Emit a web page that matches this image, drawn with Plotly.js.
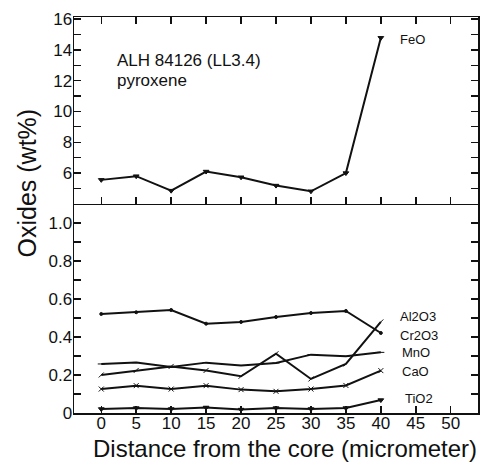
<!DOCTYPE html>
<html><head><meta charset="utf-8">
<script src="https://cdn.plot.ly/plotly-3.0.1.min.js"></script>
<style>html,body{margin:0;padding:0;background:#fff}#c{width:487px;height:464px}</style>
</head><body><div id="c"></div>
<script>
const distance = [0, 5, 10, 15, 20, 25, 30, 35, 40];
const FeO   = [5.56, 5.8, 4.86, 6.1, 5.73, 5.19, 4.82, 6.0, 14.78];
const Al2O3 = [0.521, 0.53, 0.542, 0.47, 0.479, 0.505, 0.526, 0.537, 0.421];
const Cr2O3 = [0.20, 0.224, 0.245, 0.224, 0.193, 0.312, 0.179, 0.258, 0.479];
const MnO   = [0.258, 0.266, 0.242, 0.265, 0.25, 0.263, 0.307, 0.298, 0.319];
const CaO   = [0.126, 0.144, 0.126, 0.144, 0.123, 0.114, 0.126, 0.145, 0.223];
const TiO2  = [0.021, 0.026, 0.021, 0.029, 0.018, 0.026, 0.021, 0.026, 0.068];
const xTicks = [0, 5, 10, 15, 20, 25, 30, 35, 40, 45, 50];
const topTicks = [6, 8, 10, 12, 14, 16];
const botTicks = [0, 0.2, 0.4, 0.6, 0.8, 1.0];
const botTickText = ['0', '0.2', '0.4', '0.6', '0.8', '1.0'];

const F = 'Liberation Sans, Arial, Helvetica, sans-serif';
const ink = '#111';
function tr(y, ax, sym, size) {
  return {x: distance, y: y, xaxis: ax[0], yaxis: ax[1], mode: 'lines+markers',
    line: {color: ink, width: 2}, marker: {symbol: sym, size: size, color: ink, line: {color: ink, width: 1}},
    showlegend: false, hoverinfo: 'skip'};
}
const data = [
  tr(FeO, ['x2', 'y2'], 'triangle-down', 5),
  tr(Al2O3, ['x', 'y'], 'circle', 3),
  tr(Cr2O3, ['x', 'y'], 'line-ne', 5),
  tr(MnO, ['x', 'y'], 'line-ew', 5),
  tr(CaO, ['x', 'y'], 'x-thin', 5),
  tr(TiO2, ['x', 'y'], 'triangle-down', 5)
];
const axCommon = {showline: true, linecolor: ink, linewidth: 1.5, mirror: 'allticks', ticks: 'inside',
  ticklen: 7, tickwidth: 1.5, tickcolor: ink, showgrid: false, zeroline: false,
  tickfont: {family: F, size: 17, color: ink}};
const layout = {
  width: 487, height: 464, paper_bgcolor: '#fff', plot_bgcolor: '#fff',
  margin: {l: 74, r: 9, t: 17, b: 51},
  font: {family: F, color: ink},
  xaxis: Object.assign({}, axCommon, {anchor: 'y', mirror: false, range: [-3.9, 53.9], tickvals: xTicks,
    ticklabelstandoff: -6}),
  xaxis2: Object.assign({}, axCommon, {anchor: 'y2', matches: 'x', range: [-3.9, 53.9], tickvals: xTicks, showticklabels: false}),
  yaxis: Object.assign({}, axCommon, {domain: [0, 0.528], range: [0, 1.1], tickvals: botTicks, ticktext: botTickText,
    ticklabelstandoff: -3,
    minor: {dtick: 0.1, ticklen: 7, tickwidth: 1.2, tickcolor: ink, ticks: 'inside'}}),
  yaxis2: Object.assign({}, axCommon, {domain: [0.528, 1], range: [4, 16.13], tickvals: topTicks,
    ticklabelstandoff: -3,
    minor: {dtick: 1, ticklen: 7, tickwidth: 1.2, tickcolor: ink, ticks: 'inside'}}),
  annotations: [
    {text: 'Distance from the core (micrometer)', xref: 'paper', yref: 'paper', x: 0.522, y: -0.127, xanchor: 'center', yanchor: 'bottom',
      showarrow: false, borderpad: 0, font: {family: F, size: 24, color: ink}},
    {text: 'Oxides (wt%)', xref: 'paper', yref: 'paper', x: -0.116, y: 0.58, xanchor: 'center', yanchor: 'middle',
      textangle: -90, showarrow: false, font: {family: F, size: 25, color: ink}},
    {text: 'ALH 84126 (LL3.4)', xref: 'x2', yref: 'y2', x: 2.0, y: 13.33, xanchor: 'left', showarrow: false,
      font: {family: F, size: 17, color: ink}},
    {text: 'pyroxene', xref: 'x2', yref: 'y2', x: 2.0, y: 12.03, xanchor: 'left', showarrow: false,
      font: {family: F, size: 17, color: ink}},
    {text: 'FeO', xref: 'x2', yref: 'y2', x: 42.4, y: 14.7, xanchor: 'left', showarrow: false,
      font: {family: F, size: 13, color: ink}},
    {text: 'Al2O3', xref: 'x', yref: 'y', x: 42.4, y: 0.507, xanchor: 'left', showarrow: false, font: {family: F, size: 13, color: ink}},
    {text: 'Cr2O3', xref: 'x', yref: 'y', x: 42.4, y: 0.407, xanchor: 'left', showarrow: false, font: {family: F, size: 13, color: ink}},
    {text: 'MnO', xref: 'x', yref: 'y', x: 42.8, y: 0.316, xanchor: 'left', showarrow: false, font: {family: F, size: 13, color: ink}},
    {text: 'CaO', xref: 'x', yref: 'y', x: 42.8, y: 0.216, xanchor: 'left', showarrow: false, font: {family: F, size: 13, color: ink}},
    {text: 'TiO2', xref: 'x', yref: 'y', x: 43.1, y: 0.075, xanchor: 'left', showarrow: false, font: {family: F, size: 13, color: ink}}
  ]
};
Plotly.newPlot('c', data, layout, {staticPlot: true, displayModeBar: false});
</script></body></html>
